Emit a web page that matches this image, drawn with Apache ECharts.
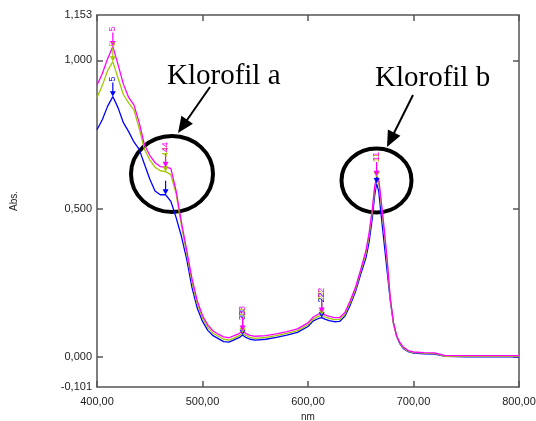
<html>
<head>
    <meta charset="utf-8">
    <script src="https://cdn.jsdelivr.net/npm/echarts@6.0.0/dist/echarts.min.js"></script>
    <style>
        body { margin: 0; background: #fff; }
    </style>
</head>
<body>
    <div id="main" style="width:536px; height:421px"></div>
<script type="text/javascript">
    // spectrum, nm
    var wavelength = [400, 405, 410, 415, 420, 425, 430, 435, 440, 445,
        450, 455, 460, 465, 470, 475, 480, 485, 490, 495,
        500, 505, 510, 515, 520, 525, 530, 535, 538, 541,
        545, 550, 560, 570, 580, 590, 600, 605, 610, 613,
        616, 620, 625, 630, 635, 640, 645, 650, 655, 658,
        661, 663, 665, 667, 669, 672, 675, 678, 681, 684,
        687, 690, 695, 700, 710, 720, 730, 750, 800];

    var absBlue = [0.766, 0.80, 0.845, 0.878, 0.84, 0.79, 0.76, 0.725, 0.70, 0.65,
        0.60, 0.56, 0.547, 0.547, 0.525, 0.47, 0.407, 0.33, 0.235, 0.165,
        0.12, 0.09, 0.072, 0.062, 0.052, 0.05, 0.058, 0.066, 0.074, 0.066,
        0.06, 0.057, 0.06, 0.066, 0.074, 0.083, 0.103, 0.122, 0.13, 0.133,
        0.128, 0.123, 0.119, 0.12, 0.138, 0.175, 0.22, 0.28, 0.335, 0.39,
        0.47, 0.54, 0.585, 0.56, 0.49, 0.39, 0.29, 0.19, 0.115, 0.07,
        0.045, 0.03, 0.018, 0.013, 0.011, 0.01, 0.002, 0.001, 0.001];

    var absGreen = [0.874, 0.915, 0.965, 0.996, 0.94, 0.885, 0.857, 0.833, 0.77, 0.70,
        0.665, 0.64, 0.628, 0.625, 0.615, 0.55, 0.445, 0.35, 0.255, 0.18,
        0.132, 0.1, 0.08, 0.07, 0.06, 0.057, 0.064, 0.073, 0.08, 0.073,
        0.066, 0.063, 0.066, 0.072, 0.08, 0.089, 0.109, 0.128, 0.138, 0.141,
        0.135, 0.13, 0.126, 0.127, 0.144, 0.183, 0.228, 0.29, 0.35, 0.41,
        0.49, 0.56, 0.605, 0.59, 0.53, 0.43, 0.32, 0.195, 0.11, 0.07,
        0.047, 0.032, 0.02, 0.015, 0.013, 0.012, 0.002, 0.002, 0.002];

    var absMagenta = [0.917, 0.955, 1.005, 1.047, 0.985, 0.92, 0.875, 0.85, 0.79, 0.715,
        0.68, 0.655, 0.642, 0.64, 0.636, 0.56, 0.455, 0.36, 0.265, 0.19,
        0.14, 0.108, 0.088, 0.077, 0.068, 0.065, 0.072, 0.08, 0.088, 0.08,
        0.073, 0.07, 0.072, 0.078, 0.086, 0.095, 0.115, 0.135, 0.145, 0.149,
        0.142, 0.137, 0.133, 0.133, 0.15, 0.19, 0.235, 0.295, 0.36, 0.42,
        0.50, 0.57, 0.61, 0.60, 0.54, 0.44, 0.33, 0.2, 0.115, 0.072,
        0.05, 0.035, 0.022, 0.017, 0.015, 0.014, 0.005, 0.005, 0.005];

    // peak picks
    var peakNm = [415, 465, 538, 613, 665];
    var peakLabels = ['5', '44', '33', '22', '11'];

    var yLabelValues = [-0.101, 0, 0.5, 1, 1.153];
    var yTickValues = [0, 0.5, 1];

    var myChart = echarts.init(document.getElementById('main'));

    function pairs(ys) {
        return wavelength.map(function (w, i) { return [w, ys[i]]; });
    }

    function peakMarks(ys, color, labelOn) {
        return {
            symbol: 'path://M-0.6,0 L0.6,0 L0.6,11 L3,11 L0,18 L-3,11 L-0.6,11 Z',
            symbolSize: [6, 14],
            symbolOffset: [0, '-50%'],
            itemStyle: { color: color },
            label: {
                show: true,
                position: 'top',
                distance: 1,
                rotate: 90,
                align: 'left',
                verticalAlign: 'middle',
                formatter: '{c}',
                color: color,
                fontSize: 9,
                fontFamily: 'Liberation Sans'
            },
            data: peakNm.map(function (nm, i) {
                return {
                    coord: [nm, ys[wavelength.indexOf(nm)]],
                    value: peakLabels[i],
                    label: { show: labelOn[i] }
                };
            })
        };
    }

    function arrow(x1, y1, x2, y2) {
        var dx = x2 - x1, dy = y2 - y1;
        var len = Math.sqrt(dx * dx + dy * dy);
        var ux = dx / len, uy = dy / len;
        var hl = 16, hw = 7;
        var bx = x2 - ux * hl, by = y2 - uy * hl;
        return [{
            type: 'line',
            shape: { x1: x1, y1: y1, x2: bx + ux * 2, y2: by + uy * 2 },
            style: { stroke: '#000', lineWidth: 2 }
        }, {
            type: 'polygon',
            shape: { points: [[x2, y2], [bx - uy * hw, by + ux * hw], [bx + uy * hw, by - ux * hw]] },
            style: { fill: '#000' }
        }];
    }

    var axisCol = '#555';
    var txt = { color: '#222', fontSize: 11, fontFamily: 'Liberation Sans' };

    var option = {
        animation: false,
        backgroundColor: '#fff',
        grid: { left: 97, right: 17, top: 15, bottom: 34, outerBoundsMode: 'none' },
        xAxis: [{
            type: 'value',
            min: 400,
            max: 800,
            interval: 100,
            name: 'nm',
            nameLocation: 'middle',
            nameGap: 24,
            nameTextStyle: { color: '#222', fontSize: 10, fontFamily: 'Liberation Sans' },
            axisLine: { onZero: false, lineStyle: { color: axisCol, width: 1.5 } },
            axisTick: { inside: true, length: 6, lineStyle: { color: axisCol, width: 1.5 } },
            axisLabel: Object.assign({ margin: 9, formatter: function (v) { return v.toFixed(2).replace('.', ','); } }, txt),
            splitLine: { show: false }
        }, {
            type: 'value',
            position: 'top',
            min: 400,
            max: 800,
            interval: 100,
            axisLine: { onZero: false, lineStyle: { color: axisCol, width: 1.5 } },
            axisTick: { inside: true, length: 6, lineStyle: { color: axisCol, width: 1.5 } },
            axisLabel: { show: false },
            splitLine: { show: false }
        }],
        yAxis: [{
            type: 'value',
            min: -0.101,
            max: 1.153,
            name: 'Abs.',
            nameLocation: 'middle',
            nameRotate: 90,
            nameGap: 78,
            nameTextStyle: { color: '#222', fontSize: 10, fontFamily: 'Liberation Sans' },
            axisLine: { show: true, onZero: false, lineStyle: { color: axisCol, width: 1.5 } },
            axisTick: { show: true, inside: true, length: 6, customValues: yTickValues, lineStyle: { color: axisCol, width: 1.5 } },
            axisLabel: Object.assign({ margin: 5, customValues: yLabelValues, formatter: function (v) { return v.toFixed(3).replace('.', ','); } }, txt),
            splitLine: { show: false }
        }, {
            type: 'value',
            position: 'right',
            min: -0.101,
            max: 1.153,
            axisLine: { show: true, onZero: false, lineStyle: { color: axisCol, width: 1.5 } },
            axisTick: { show: true, inside: true, length: 6, customValues: yTickValues, lineStyle: { color: axisCol, width: 1.5 } },
            axisLabel: { show: false },
            splitLine: { show: false }
        }],
        series: [{
            name: 'blue',
            type: 'line',
            showSymbol: false,
            data: pairs(absBlue),
            lineStyle: { color: '#0000ff', width: 1.3 },
            itemStyle: { color: '#0000ff' },
            markPoint: peakMarks(absBlue, '#0000ff', [true, false, true, true, false])
        }, {
            name: 'green',
            type: 'line',
            showSymbol: false,
            data: pairs(absGreen),
            lineStyle: { color: '#a0c800', width: 1.3 },
            itemStyle: { color: '#a0c800' },
            markPoint: peakMarks(absGreen, '#a0c800', [true, true, true, true, true])
        }, {
            name: 'magenta',
            type: 'line',
            showSymbol: false,
            data: pairs(absMagenta),
            lineStyle: { color: '#ff00ff', width: 1.3 },
            itemStyle: { color: '#ff00ff' },
            markPoint: peakMarks(absMagenta, '#ff00ff', [true, true, true, true, true])
        }],
        graphic: [
            { type: 'text', x: 167, y: 76, style: { text: 'Klorofil a', font: '29px "Liberation Serif"', fill: '#000', verticalAlign: 'middle' } },
            { type: 'text', x: 375, y: 78, style: { text: 'Klorofil b', font: '29px "Liberation Serif"', fill: '#000', verticalAlign: 'middle' } },
            { type: 'ellipse', shape: { cx: 172, cy: 174, rx: 41, ry: 38 }, style: { fill: 'none', stroke: '#000', lineWidth: 4 } },
            { type: 'ellipse', shape: { cx: 376.5, cy: 180.5, rx: 35, ry: 32 }, style: { fill: 'none', stroke: '#000', lineWidth: 4 } }
        ].concat(arrow(210, 87, 178, 133), arrow(413, 95, 387, 147))
    };

    myChart.setOption(option);
</script>
</body>
</html>
